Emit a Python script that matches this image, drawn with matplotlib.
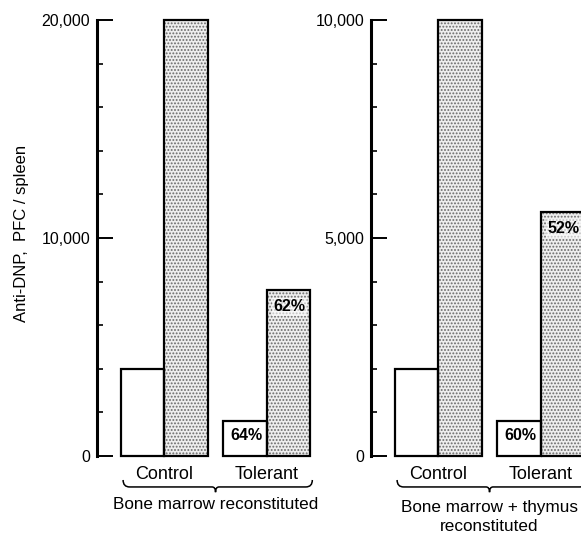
import matplotlib
matplotlib.use('Agg')
import matplotlib.pyplot as plt
import matplotlib.transforms as mtransforms
from matplotlib.path import Path
from matplotlib.patches import PathPatch
from matplotlib.ticker import MultipleLocator

# ---------------- data ----------------
groups = ['Control', 'Tolerant']
left_white = [4000, 1600]
left_stipple = [20000, 7600]
right_white = [2000, 800]
right_stipple = [10000, 5600]
left_pct_white = ['', '64%']
left_pct_stipple = ['', '62%']
right_pct_white = ['', '60%']
right_pct_stipple = ['', '52%']
left_ticks = [0, 10000, 20000]
left_ticklabels = ['0', '10,000', '20,000']
right_ticks = [0, 5000, 10000]
right_ticklabels = ['0', '5,000', '10,000']
left_minor = 2000
right_minor = 1000
ylabel_text = 'Anti-DNP,  PFC / spleen'
left_title = 'Bone marrow reconstituted'
right_title = 'Bone marrow + thymus\nreconstituted'

FONT = ['Liberation Sans', 'DejaVu Sans']
plt.rcParams['font.family'] = FONT
plt.rcParams['hatch.linewidth'] = 0.9

W, H = 581, 536
fig = plt.figure(figsize=(W / 100, H / 100), dpi=100)
fig.patch.set_facecolor('white')

pos = [0.0, 2.35]
bw = 1.0
xl = (-1.55, -1.55 + 260 / 43.5)

ax_b = (536 - 456) / H
ax_h = 436 / H


def panel(left_px, white, stipple, pct_w, pct_s, ticks, ticklabels, minor, title, title_y):
    ax = fig.add_axes([left_px / W, ax_b, 260 / W, ax_h])
    ax.set_xlim(*xl)
    ax.set_ylim(0, ticks[-1])
    xw = [p - bw / 2 for p in pos]
    xs = [p + bw / 2 for p in pos]
    ax.bar(xw, white, width=bw, facecolor='white', edgecolor='black', linewidth=1.6, clip_on=False, zorder=3)
    ax.bar(xs, stipple, width=bw, facecolor='#eeeeee', edgecolor='#6a6a6a', hatch='.....',
           linewidth=0, clip_on=False, zorder=2)
    ax.bar(xs, stipple, width=bw, fill=False, edgecolor='black', linewidth=1.6, clip_on=False, zorder=3)
    for x, v, t in zip(xw, white, pct_w):
        if t:
            ax.annotate(t, (x, v), xytext=(1, -10.5), textcoords='offset points', ha='center', va='center',
                        fontsize=11.5, fontweight='bold', zorder=5)
    for x, v, t in zip(xs, stipple, pct_s):
        if t:
            ax.annotate(t, (x, v), xytext=(1, -12), textcoords='offset points', ha='center', va='center',
                        fontsize=11.5, fontweight='bold', zorder=5,
                        bbox=dict(boxstyle='square,pad=0.1', facecolor='white', edgecolor='none', alpha=0.6))
    for s in ['top', 'right', 'bottom']:
        ax.spines[s].set_visible(False)
    ax.spines['left'].set_linewidth(2.2)
    ax.spines['left'].set_bounds(0, ticks[-1])
    ax.set_yticks(ticks, ticklabels)
    ax.yaxis.set_minor_locator(MultipleLocator(minor))
    ax.tick_params(axis='y', which='major', direction='in', length=11.5, width=1.4, pad=5,
                   labelsize=11.5)
    ax.tick_params(axis='y', which='minor', direction='in', length=4.3, width=1.2)
    ax.set_xticks(pos, groups)
    ax.tick_params(axis='x', length=0, pad=7, labelsize=13)
    ax.patch.set_alpha(0)
    # brace
    tr = mtransforms.blended_transform_factory(ax.transData, ax.transAxes)
    x0 = pos[0] - 0.95
    x1 = pos[-1] + 1.05
    xm = (pos[0] + pos[-1]) / 2
    yt, yb, yn = -0.055, -0.071, -0.083
    verts = [(x0, yt), (x0, yb), (x0 + 0.15, yb),
             (xm - 0.08, yb), (xm, yb), (xm, yn), (xm, yb), (xm + 0.08, yb),
             (x1 - 0.15, yb), (x1, yb), (x1, yt)]
    codes = [Path.MOVETO, Path.CURVE3, Path.CURVE3,
             Path.LINETO, Path.CURVE3, Path.CURVE3, Path.CURVE3, Path.CURVE3,
             Path.LINETO, Path.CURVE3, Path.CURVE3]
    ax.add_patch(PathPatch(Path(verts, codes), transform=tr, fill=False, edgecolor='black',
                           linewidth=1.1, clip_on=False))
    ax.text(xm, title_y, title, transform=tr, ha='center', va='center', fontsize=12.3,
            linespacing=1.3)
    return ax


axL = panel(97, left_white, left_stipple, left_pct_white, left_pct_stipple,
            left_ticks, left_ticklabels, left_minor, left_title, -0.112)
axR = panel(371, right_white, right_stipple, right_pct_white, right_pct_stipple,
            right_ticks, right_ticklabels, right_minor, right_title, -0.14)

axL.set_ylabel(ylabel_text, fontsize=12)
axL.yaxis.set_label_coords(-(97 - 29) / 260, 0.51)

fig.savefig('out.png', dpi=100, facecolor='white')
